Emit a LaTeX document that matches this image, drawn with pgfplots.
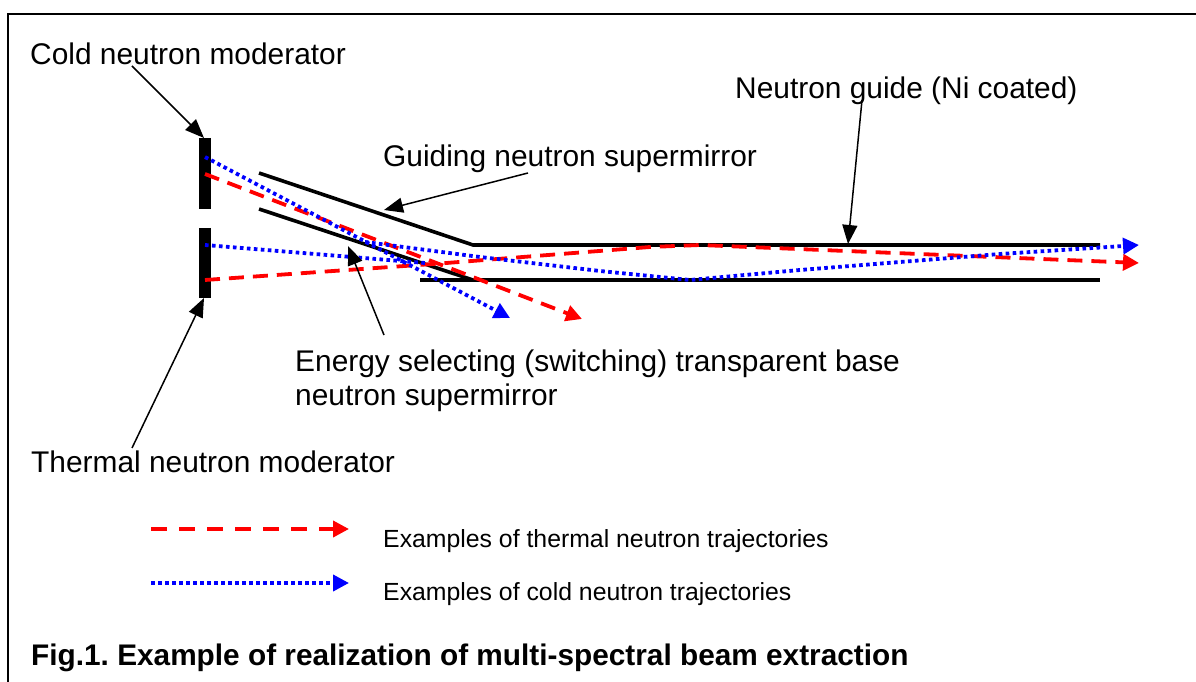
\documentclass[border=0pt]{standalone}
\usepackage{pgfplots}
\pgfplotsset{compat=1.18}
\usepackage{fontspec}
\setmainfont{Liberation Sans}
\usetikzlibrary{arrows.meta}
\begin{document}
\frenchspacing
\begin{tikzpicture}[x=1bp,y=1bp]
\path[use as bounding box] (0,0) rectangle (1196,682);
\tikzset{lab/.style={anchor=base west,inner sep=0pt,font=\fontsize{30}{32}\selectfont},
 leg/.style={anchor=base west,inner sep=0pt,font=\fontsize{24.9}{27}\selectfont},
 rd/.style={red,line width=3.8bp,dash pattern=on 15bp off 9bp},
 bl/.style={blue,line width=3.8bp,dash pattern=on 3.6bp off 3.4bp},
 rdl/.style={red,line width=3.8bp,dash pattern=on 16bp off 12bp},
 tip/.style={-{Triangle[length=16bp,width=16bp]}},
 ann/.style={black,line width=1.5bp,-{Triangle[length=19bp,width=15bp]}}}
\begin{axis}[at={(0,0)},anchor=south west,scale only axis,width=1196bp,height=682bp,xmin=0,xmax=1196,ymin=0,ymax=682,y dir=reverse,axis lines=none,clip=false,
 every axis plot/.append style={line cap=butt,line join=miter}]
% frame
\addplot[black,line width=2bp] coordinates {(8,682)(8,14)(1196,14)};
% moderators
\addplot[black,line width=12bp] coordinates {(205,138)(205,209)};
\addplot[black,line width=12bp] coordinates {(205,228)(205,298)};
% mirrors
\addplot[black,line width=3.6bp] coordinates {(259,173)(473,245)(1100,245)};
\addplot[black,line width=3.6bp] coordinates {(259,209)(473,280)};
\addplot[black,line width=3.6bp] coordinates {(420,280)(1100,280)};
% red trajectories
\addplot[rd,tip] coordinates {(205,174)(582,319)};
\addplot[rd,tip] coordinates {(205,280)(440,263.5)(650,247)(700,245)(1139,263)};
% blue trajectories
\addplot[bl,tip] coordinates {(205,157)(510,318)};
\addplot[bl] coordinates {(205,245)(425,263)};
\addplot[bl,tip] coordinates {(365,242)(480,257)(600,271)(690,280)(800,270)(1000,254)(1139,245)};
% annotation arrows
\addplot[ann] coordinates {(132,66)(204,138)};
\addplot[ann] coordinates {(132,448)(204,298)};
\addplot[ann] coordinates {(528,173)(384,210)};
\addplot[ann] coordinates {(384,335)(348,246)};
\addplot[ann] coordinates {(862,100)(848,244)};
% legend
\addplot[rdl,tip] coordinates {(151,529)(349,529)};
\addplot[bl,tip] coordinates {(151,583)(349,583)};
% text
\node[lab] at (axis cs:30,65) {Cold neutron moderator};
\node[lab] at (axis cs:735,99) {Neutron guide (Ni coated)};
\node[lab] at (axis cs:383,167) {Guiding neutron supermirror};
\node[lab] at (axis cs:295,372) {Energy selecting (switching) transparent base};
\node[lab] at (axis cs:295,406) {neutron supermirror};
\node[lab] at (axis cs:31,473) {Thermal neutron moderator};
\node[leg] at (axis cs:383,547) {Examples of thermal neutron trajectories};
\node[leg] at (axis cs:383,600) {Examples of cold neutron trajectories};
\node[lab,font=\fontsize{29.9}{32}\selectfont\bfseries] at (axis cs:31,665) {Fig.1. Example of realization of multi-spectral beam extraction};
\end{axis}
\end{tikzpicture}
\end{document}
